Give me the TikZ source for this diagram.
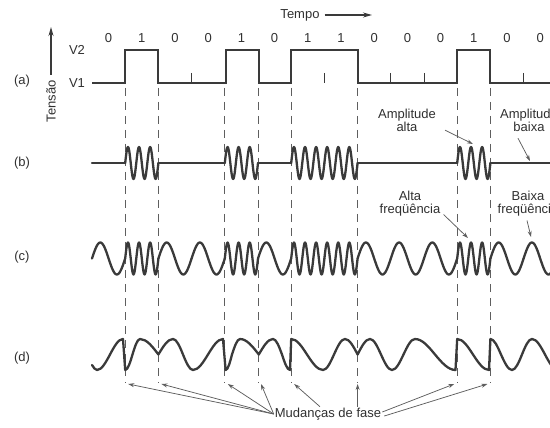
\documentclass[tikz,border=0pt]{standalone}
\usepackage{fontspec}
\setmainfont{Liberation Sans}
\usepackage{xcolor}
\definecolor{cWave}{HTML}{3A3A3A}
\definecolor{cText}{HTML}{303030}
\definecolor{cGuide}{HTML}{5E5E5E}
\usepackage{tikz}
\usetikzlibrary{arrows.meta,calc}
\tikzset{
  wave-line/.style={draw=cWave,line width=2.3pt,line cap=round,line join=round},
  level-line/.style={draw=cWave,line width=2.1pt,line join=miter},
  guide-line/.style={draw=cGuide,line width=0.8pt,dash pattern=on 8pt off 6pt},
  tick-line/.style={draw=cWave,line width=1pt},
  arrow/.style={-{Stealth[length=6pt,width=4pt]},draw=cGuide,line width=0.75pt},
  axis-arrow/.style={-{Stealth[length=9pt,width=5pt]},draw=cWave,line width=1.3pt},
  label-text/.style={text=cText,font=\fontsize{13}{13.5}\selectfont,inner sep=1pt,align=center},
}

\begin{document}
\begin{tikzpicture}[x=1pt,y=-1pt]
  \useasboundingbox (0,0) rectangle (550,428);
  \clip (0,0) rectangle (550,428);
  % row labels and axes
  \node[label-text] (lbl-a) at (22,81)  {(a)};
  \node[label-text] (lbl-b) at (22,163) {(b)};
  \node[label-text] (lbl-c) at (22,257) {(c)};
  \node[label-text] (lbl-d) at (22,358) {(d)};
  \node[label-text] (v2) at (77,50) {V2};
  \node[label-text] (v1) at (77,83) {V1};
  \node[label-text,rotate=90,anchor=east] (tensao) at (51,79) {Tensão};
  \coordinate (v-top) at (51,27);
  \draw[axis-arrow,shorten <=4pt] (tensao.east) -- (v-top);
  \node[label-text] (tempo) at (300,15) {Tempo};
  \coordinate (t-end) at (372,15);
  \draw[axis-arrow,shorten <=4pt] (tempo.east) -- (t-end);
  % bits
  \foreach \b [count=\k from 0] in {0,1,0,0,1,0,1,1,0,0,0,1,0,0}
    \node[label-text] (bit-\k) at ({92+33.2*(\k+0.5)},38) {\b};
  % (a)
  \draw[level-line] (92,83) -- (125.2,83) -- (125.2,50) -- (158.4,50) -- (158.4,83)
    -- (225.6,83) -- (225.6,50) -- (258.8,50) -- (258.8,83) -- (291.2,83) -- (291.2,50)
    -- (357.6,50) -- (357.6,83) -- (457.2,83) -- (457.2,50) -- (490.4,50) -- (490.4,83) -- (560,83);
  \foreach \k in {3,7,9,10,13}
    \draw[tick-line] ({92+33.2*\k},73) -- ++(0,10);
  % guides
  \foreach \k in {1,2,4,5,6,8,11,12} {
    \draw[guide-line] ({92+33.2*\k},88) -- ({92+33.2*\k},383);
    \coordinate (ph-\k) at ({92+33.2*\k},384);
  }
  % (b) and (c)
  \foreach \b [count=\k from 0] in {0,1,0,0,1,0,1,1,0,0,0,1,0,0} {
    \pgfmathsetmacro{\xa}{92+33.2*\k}
    \pgfmathsetmacro{\xb}{\xa+33.2}
    \ifnum\b=1
      \draw[wave-line] plot[domain=\xa:\xb,samples=61] (\x,{163-16*sin((\x-\xa)/33.2*1080)});
      \draw[wave-line] plot[domain=\xa:\xb,samples=61] (\x,{258.5-16*sin((\x-\xa)/33.2*1080)});
    \else
      \draw[wave-line] (\xa,163) -- (\xb,163);
      \draw[wave-line] plot[domain=\xa:\xb,samples=41] (\x,{258.5-16*sin((\x-\xa)/33.2*360)});
    \fi
  }
  % (d)
  \draw[wave-line] (92,365) sin (97,370) cos (110,354.5) sin (123,339) -- (125.2,370)
    cos (132.5,354.5) sin (140,339) cos (158.4,354.5) sin (173,339) cos (183,354.5) sin (193,370)
    cos (208,354.5) sin (223,339) -- (225.6,370)
    cos (232,354.5) sin (240,339) cos (258.8,354.5) sin (273,339) cos (282,354.5) sin (290,370) -- (291.2,339)
    cos (307,354.5) sin (323,370) cos (334,354.5) sin (345,339) cos (357.6,354.5) sin (370,339)
    cos (381,354.5) sin (392,370) cos (403.5,354.5) sin (415,339) cos (435,354.5) sin (455.5,370) -- (457.2,339)
    cos (473,354.5) sin (489,370) -- (490.4,339)
    cos (501,354.5) sin (512,370) cos (522,354.5) sin (532,339) cos (545,354.5) sin (558,370);
  % annotations
  \node[label-text] (amp-hi) at (407,120.5) {Amplitude\\alta};
  \node[label-text] (amp-lo) at (529,120.5) {Amplitude\\baixa};
  \node[label-text] (hi-freq) at (410,203.5) {Alta\\freqüência};
  \node[label-text] (lo-freq) at (528,203.5) {Baixa\\freqüência};
  \coordinate (amp-hi-end) at (473,144);
  \coordinate (amp-lo-end) at (530,161);
  \coordinate (hi-freq-end) at (468,238);
  \coordinate (lo-freq-end) at (531,237);
  \draw[arrow] ($(amp-hi.south east)+(8,-3)$) -- (amp-hi-end);
  \draw[arrow] ($(amp-lo.south)+(-11,5)$) -- (amp-lo-end);
  \draw[arrow] ($(hi-freq.south east)+(2,-3)$) -- (hi-freq-end);
  \draw[arrow] ($(lo-freq.south)+(-1,3)$) -- (lo-freq-end);
  \node[label-text] (fase) at (328,414) {Mudanças de fase};
  \foreach \k in {1,2,4,5}
    \draw[arrow] (fase.west) -- ($(ph-\k)+(3,0)$);
  \draw[arrow] ($(fase.north)+(-8,0)$) -- ($(ph-6)+(3,0)$);
  \draw[arrow] (fase.north -| ph-8) -- (ph-8);
  \draw[arrow] ($(fase.east)+(0,-2)$) -- ($(ph-11)+(-3,0)$);
  \draw[arrow] ($(fase.east)+(2,2)$) -- ($(ph-12)+(-3,0)$);
\end{tikzpicture}
\end{document}
